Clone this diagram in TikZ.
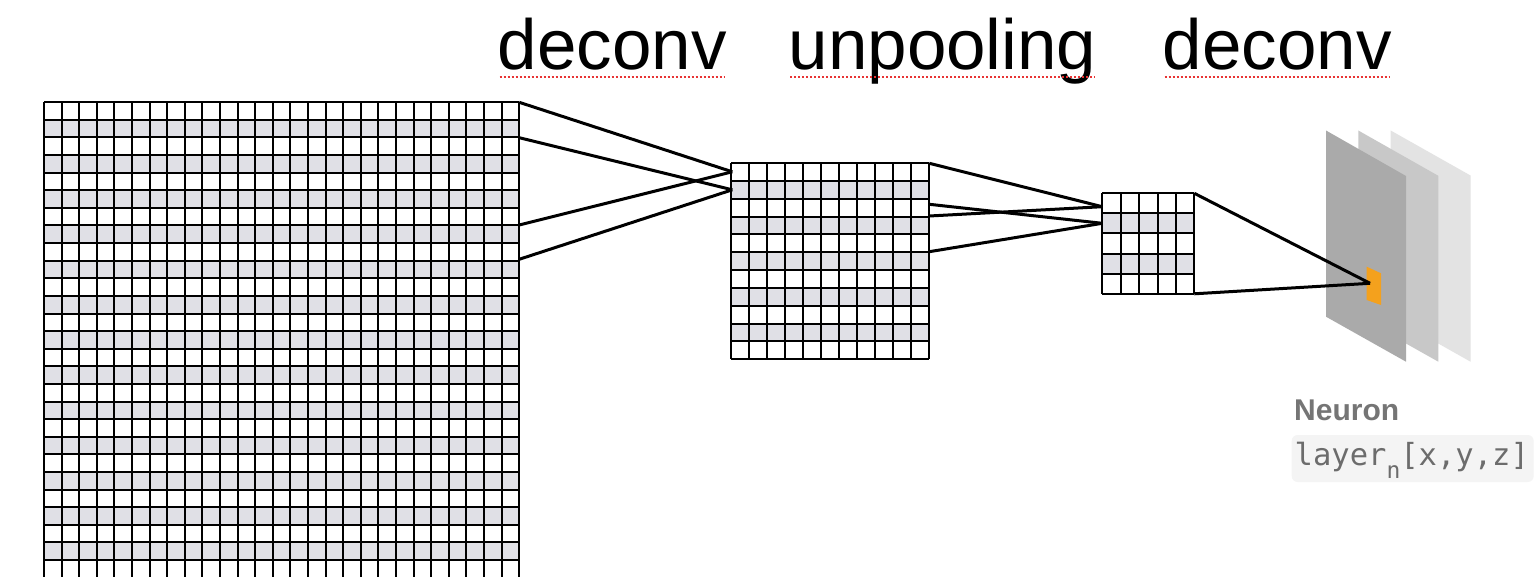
\documentclass[tikz,border=0pt]{standalone}
\usepackage{fontspec}
\setmainfont{Liberation Sans}
\newfontfamily\codefont{DejaVu Sans Mono}
\usetikzlibrary{calc}

\definecolor{rowgray}{RGB}{224,224,230}
\definecolor{planeA}{RGB}{170,170,170}
\definecolor{planeB}{RGB}{200,200,200}
\definecolor{planeC}{RGB}{227,227,227}
\definecolor{neuronorange}{RGB}{244,161,29}
\definecolor{labelgray}{RGB}{117,117,117}
\definecolor{codegray}{RGB}{108,108,108}
\definecolor{codebg}{RGB}{244,244,244}
\definecolor{spellred}{RGB}{232,52,52}

\tikzset{
  gridline/.style={line width=2pt, black},
  mapbox/.style={anchor=north west, inner sep=0pt, outer sep=0pt, draw=none},
  conn/.style={line width=3pt, black},
  oplabel/.style={anchor=base west, inner sep=0pt, font=\fontsize{71}{85}\selectfont},
  spell/.style={spellred, line width=2.2pt, dash pattern=on 2pt off 2pt},
}

% feature map: name, left x, top y, columns, rows, cell width, cell height
\newcommand{\featuremap}[7]{%
  \node[mapbox, minimum width={#4*#6 pt}, minimum height={#5*#7 pt}] (#1) at (#2,#3) {};
  \foreach \r in {2,4,...,#5}
    \fill[rowgray] ({#2},{#3+(\r-1)*#7}) rectangle ++({#4*#6},{#7});
  \foreach \i in {0,...,#4}
    \draw[gridline] ({#2+\i*#6},{#3}) -- ++(0,{#5*#7});
  \foreach \j in {0,...,#5}
    \draw[gridline] ({#2},{#3+\j*#7}) -- ++({#4*#6},0);
}

\begin{document}
\begin{tikzpicture}[x=1pt, y=-1pt]
  \useasboundingbox (0,0) rectangle (1536,577);
  \clip (0,0) rectangle (1536,577);
  \fill[white] (0,0) rectangle (1536,577);

  % operation labels
  \node[oplabel] (op1) at (497.6,70) {deconv};
  \node[oplabel] (op2) at (788.4,70) {unpooling};
  \node[oplabel] (op3) at (1162.6,70) {deconv};
  \foreach \n in {op1,op2,op3}
    \draw[spell] ($(\n.base west)+(2,7)$) -- ($(\n.base east)+(-2,7)$);

  % feature maps
  \featuremap{big}{44}{102.3}{27}{28}{17.6}{17.6}
  \featuremap{mid}{731.3}{163.3}{11}{11}{18}{17.8}
  \featuremap{small}{1102.3}{193.3}{5}{5}{18.4}{20.1}

  % stacked activation planes
  \fill[planeC] (1390.7,130.5) -- (1470.5,175.5) -- (1470.5,361.7) -- (1390.7,316.7) -- cycle;
  \fill[planeB] (1358.3,130.5) -- (1438.3,175.8) -- (1438.3,361.7) -- (1358.3,316.7) -- cycle;
  \fill[planeA] (1326,130.5) -- (1406,176) -- (1406,361.7) -- (1326,316.7) -- cycle;
  \fill[neuronorange] (1366.7,266.7) -- (1381,273.3) -- (1381,305) -- (1366.7,300) -- cycle;
  \coordinate (neuron) at (1370,283.3);

  % connection end points
  \coordinate (b0) at (big.north east);
  \coordinate (b2) at ($(big.north east)+(0,35.4)$);
  \coordinate (b7) at ($(big.north east)+(0,122.7)$);
  \coordinate (b9) at ($(big.north east)+(0,157)$);
  \coordinate (m1) at ($(mid.north west)+(1,8.5)$);
  \coordinate (m2) at ($(mid.north west)+(1,26.5)$);
  \coordinate (mr1) at (mid.north east);
  \coordinate (mr2) at ($(mid.north east)+(0,41)$);
  \coordinate (mr3) at ($(mid.north east)+(0,52.7)$);
  \coordinate (mr4) at ($(mid.north east)+(0,88.4)$);
  \coordinate (s1) at ($(small.north west)+(0,13.4)$);
  \coordinate (s2) at ($(small.north west)+(0,30)$);

  % receptive field connections
  \draw[conn] (b0) -- (m1);
  \draw[conn] (b2) -- (m2);
  \draw[conn] (b7) -- (m1);
  \draw[conn] (b9) -- (m2);
  \draw[conn] (mr1) -- (s1);
  \draw[conn] (mr2) -- (s2);
  \draw[conn] (mr3) -- (s1);
  \draw[conn] (mr4) -- (s2);
  \draw[conn] (small.north east) -- (neuron);
  \draw[conn] (small.south east) -- (neuron);

  % neuron caption
  \node[anchor=base west, inner sep=0pt, text=labelgray,
        font=\bfseries\fontsize{30}{36}\selectfont] (caption) at (1294,420.7) {Neuron};
  \node[mapbox, fill=codebg, rounded corners=6pt, minimum width=242pt,
        minimum height=47pt] (codebox) at (1291.7,435) {};
  \node[anchor=base west, inner sep=0pt, text=codegray,
        font=\codefont\fontsize{30.5}{36}\selectfont] (code) at (1294.5,465)
        {layer\raisebox{-13pt}{\fontsize{23}{23}\selectfont n}[x,y,z]};
\end{tikzpicture}
\end{document}
